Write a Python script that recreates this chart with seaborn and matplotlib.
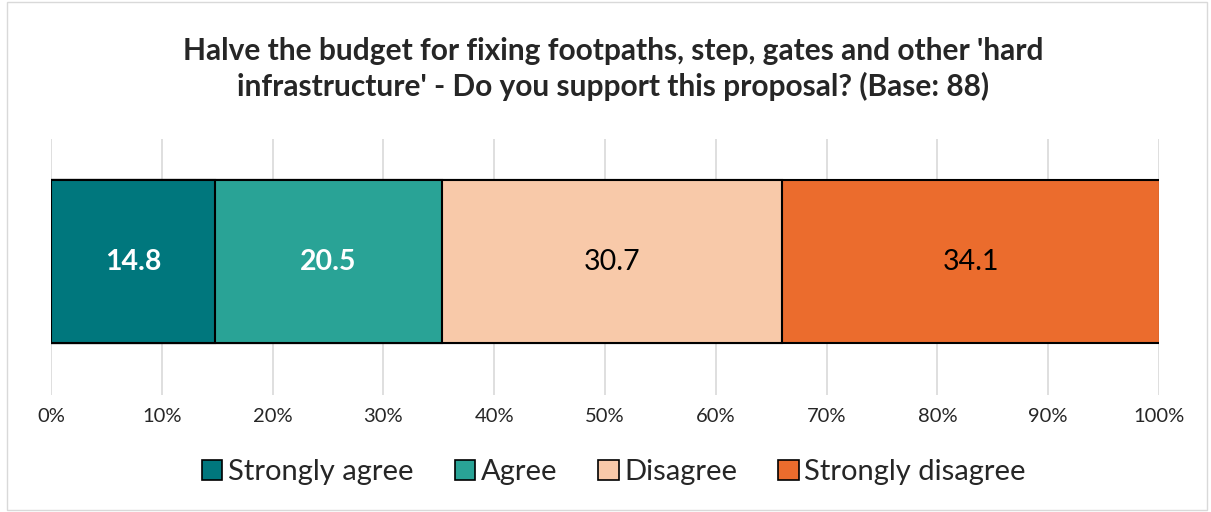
import numpy as np
import matplotlib
matplotlib.use("Agg")
import matplotlib.pyplot as plt
import seaborn as sns
import pandas as pd
from matplotlib.patches import Patch, Rectangle

categories = ['Strongly agree', 'Agree', 'Disagree', 'Strongly disagree']
values = [14.8, 20.5, 30.7, 34.1]
colors = ['#00777D', '#29A396', '#F8C9A9', '#EB6C2D']
label_colors = ['white', 'white', 'black', 'black']
label_weights = ['bold', 'bold', 'normal', 'normal']
title = "Halve the budget for fixing footpaths, step, gates and other 'hard\ninfrastructure' - Do you support this proposal? (Base: 88)"

sns.set_style('white')
plt.rcParams['font.family'] = ['Lato', 'DejaVu Sans']

cum = np.cumsum(values)
starts = cum - np.array(values)

fig = plt.figure(figsize=(12.11, 5.12), dpi=100)
ax = fig.add_axes([51/1211, 1-395/512, (1159-51)/1211, (395-139)/512])

# stacked bars: draw cumulative totals largest first so each overlays the last
for i in range(len(categories)-1, -1, -1):
    df = pd.DataFrame({'q': [''], 'v': [cum[i]]})
    sns.barplot(data=df, x='v', y='q', orient='h', color=colors[i], saturation=1,
                width=1, edgecolor='black', linewidth=1.5, ax=ax, zorder=3)

for i in range(len(categories)):
    ax.text(starts[i] + values[i]/2, 0, f'{values[i]:.1f}', ha='center', va='center',
            fontsize=20.5, color=label_colors[i], fontweight=label_weights[i], zorder=5)

ax.set_xlim(0, 100)
ax.set_ylim(0.5 + 52/163, -0.5 - 41/163)
ax.set_xticks(np.arange(0, 101, 10))
ax.set_xticklabels([f'{t}%' for t in range(0, 101, 10)], fontsize=14.5)
ax.tick_params(axis='x', length=0, pad=9)
ax.set_yticks([])
ax.set_xlabel('')
ax.set_ylabel('')
ax.grid(axis='x', color='#D9D9D9', linewidth=1.2, zorder=0)
for s in ax.spines.values():
    s.set_visible(False)

fig.text(0.506, 1-69/512, title, ha='center', va='center', fontsize=21.5,
         fontweight='bold', linespacing=1.25)

handles = [Patch(facecolor=c, edgecolor='black', linewidth=1.2) for c in colors]
fig.legend(handles, categories, loc='center', bbox_to_anchor=(0.507, 1-472/512), ncol=4,
           frameon=False, fontsize=21, handlelength=0.7, handleheight=0.7,
           handletextpad=0.2, columnspacing=1.4)

fig.patches.append(Rectangle((7/1211, 2/512), 1200/1211, 508/512, transform=fig.transFigure,
                             fill=False, edgecolor='#D9D9D9', linewidth=1))

plt.savefig('out.png', dpi=100)
